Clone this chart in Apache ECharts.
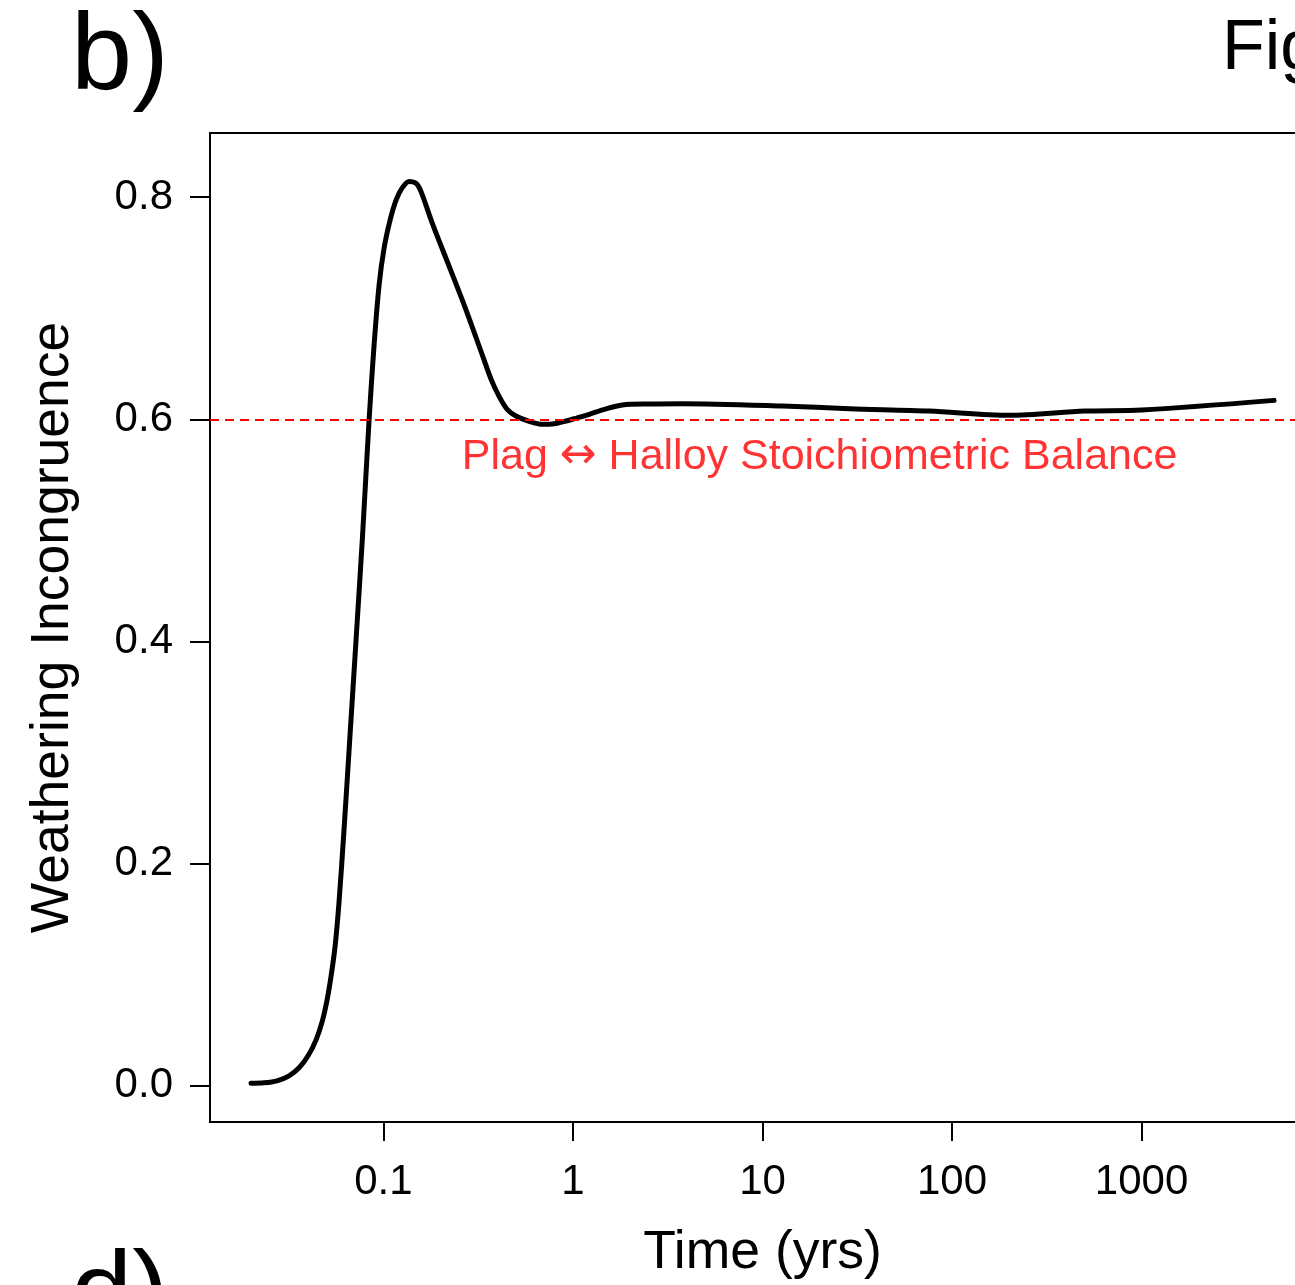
<!DOCTYPE html>
<html>
<head>
<meta charset="utf-8">
<script src="https://cdn.jsdelivr.net/npm/echarts@6/dist/echarts.min.js"></script>
<style>
  html, body { margin: 0; padding: 0; background: #fff; overflow: hidden; }
  /* the plot frame runs past the right edge of the page */
  #chart { width: 1340px; height: 1285px; }
</style>
</head>
<body>
<div id="chart"></div>
<script>
// Time since start (years) and weathering incongruence index
const timeYears = [
  0.02001, 0.02345, 0.02746, 0.03178, 0.03589, 0.04003, 0.04412, 0.04746,
  0.05043, 0.05295, 0.05559, 0.05835, 0.06201, 0.06671, 0.07176, 0.07767,
  0.08403, 0.08930, 0.09490, 0.1009, 0.1085, 0.1167, 0.1256, 0.1367,
  0.1488, 0.1581, 0.1807, 0.2222, 0.2723, 0.3320, 0.3704, 0.4083,
  0.4498, 0.5000, 0.5876, 0.6885, 0.7967, 0.9184, 1.054, 1.219,
  1.463, 1.821, 2.529, 3.777, 12.74, 28.76, 76.07, 200,
  500, 1000, 5000
];
const incongruence = [
  0.0020, 0.0024, 0.0042, 0.0087, 0.0159, 0.0267, 0.0411, 0.0572,
  0.0770, 0.0986, 0.1255, 0.1659, 0.2314, 0.3169, 0.4022, 0.4966,
  0.5999, 0.6673, 0.7212, 0.7545, 0.7796, 0.7976, 0.8084, 0.8142,
  0.8124, 0.8048, 0.7769, 0.7377, 0.6988, 0.6581, 0.6357, 0.6204,
  0.6089, 0.6029, 0.5981, 0.5954, 0.5959, 0.5984, 0.6013, 0.6044,
  0.6089, 0.6129, 0.6138, 0.6140, 0.6119, 0.6095, 0.6074, 0.6035,
  0.6074, 0.6083, 0.6170
];

// Stoichiometric balance reference level
const balanceLevel = 0.6;
const balanceLeft = 'Plag ';
const balanceArrow = '\u2194';
const balanceRight = ' Halloy Stoichiometric Balance';
const balanceTextAt = [20, 0.566];

// Axis ticks
const xTicks = [0.1, 1, 10, 100, 1000];
const yTicks = [0, 0.2, 0.4, 0.6, 0.8];
const xRange = [0.01216, 8222];
const yRange = [-0.0329, 0.8578];

const FONT = '"Liberation Sans", Arial, Helvetica, sans-serif';

const chart = echarts.init(document.getElementById('chart'), null, { renderer: 'canvas' });

chart.setOption({
  animation: false,
  backgroundColor: '#ffffff',
  textStyle: { fontFamily: FONT },
  grid: {
    left: 210, top: 133, width: 1105, height: 991,
    show: true, borderColor: '#000', borderWidth: 2,
    backgroundColor: 'transparent', containLabel: false
  },
  xAxis: {
    type: 'log', logBase: 10,
    min: xRange[0], max: xRange[1],
    name: 'Time (yrs)', nameLocation: 'middle', nameGap: 104,
    nameTextStyle: { fontFamily: FONT, fontSize: 53.5, color: '#000' },
    axisLine: { show: false, onZero: false },
    splitLine: { show: false },
    axisTick: {
      show: true, inside: false, length: 19,
      customValues: xTicks,
      lineStyle: { color: '#000', width: 2 }
    },
    axisLabel: {
      show: true, margin: 39,
      customValues: xTicks,
      fontFamily: FONT, fontSize: 42, color: '#000',
      formatter: v => String(v)
    }
  },
  yAxis: {
    type: 'value',
    min: yRange[0], max: yRange[1],
    name: 'Weathering Incongruence', nameLocation: 'middle', nameGap: 130,
    nameRotate: 90,
    nameTextStyle: { fontFamily: FONT, fontSize: 53.5, color: '#000' },
    axisLine: { show: false, onZero: false },
    splitLine: { show: false },
    axisTick: {
      show: true, inside: false, length: 20,
      customValues: yTicks,
      lineStyle: { color: '#000', width: 2 }
    },
    axisLabel: {
      show: true, margin: 37,
      customValues: yTicks,
      fontFamily: FONT, fontSize: 42, color: '#000',
      formatter: v => v.toFixed(1)
    }
  },
  series: [
    {
      type: 'line',
      data: timeYears.map((t, i) => [t, incongruence[i]]),
      showSymbol: false,
      symbol: 'none',
      smooth: 0.3,
      lineStyle: { color: '#000', width: 5, cap: 'round', join: 'round' },
      z: 3,
      markLine: {
        silent: true,
        symbol: 'none',
        label: { show: false },
        lineStyle: { color: '#ff0000', width: 2, type: [9, 6] },
        data: [{ yAxis: balanceLevel }]
      }
    },
    {
      type: 'scatter',
      data: [balanceTextAt],
      symbolSize: 0,
      silent: true,
      label: {
        show: true, position: 'inside',
        formatter: '{t|' + balanceLeft + '}{a|' + balanceArrow + '}{t|' + balanceRight + '}',
        rich: {
          t: { fontFamily: FONT, fontSize: 43, color: '#ff0000' },
          a: { fontFamily: '"DejaVu Sans", sans-serif', fontSize: 44, color: '#ff0000' }
        }
      }
    }
  ],
  graphic: [
    {
      type: 'text', left: 71, top: 4,
      style: { text: 'b)', font: '110px ' + FONT, fill: '#000' }
    },
    {
      type: 'text', left: 1222, top: 15,
      style: { text: 'Fig', font: '70px ' + FONT, fill: '#000' }
    },
    {
      type: 'text', left: 71, top: 1242,
      style: { text: 'd)', font: '110px ' + FONT, fill: '#000' }
    }
  ]
});
</script>
</body>
</html>
